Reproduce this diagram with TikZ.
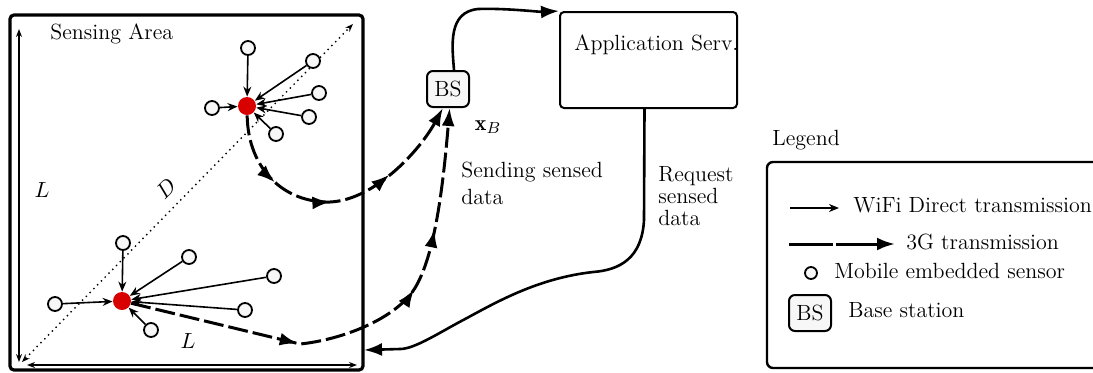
\documentclass[tikz,border=0pt]{standalone}
\usepackage{fontspec}
\usetikzlibrary{arrows.meta,decorations.markings,calc}

\begin{document}
\begin{tikzpicture}[x=0.5pt,y=-0.5pt,
  font=\fontsize{11}{13.5}\selectfont,
  sensor/.style={circle,draw,line width=0.9pt,fill=black!3,minimum size=7pt,inner sep=0pt},
  sink/.style={circle,fill=red!85!black,minimum size=9pt,inner sep=0pt},
  wifi/.style={line width=0.8pt,-{Stealth[length=5pt,width=4pt]}},
  dim/.style={line width=0.6pt,{Stealth[length=4pt,width=3pt]}-{Stealth[length=4pt,width=3pt]}},
  bigtip/.tip={Latex[length=9pt,width=6.5pt]},
  gthree/.style={line width=1.5pt,dash pattern=on 10pt off 2.5pt,-bigtip},
  midtip/.style={postaction={draw=none,decorate,decoration={markings,
    mark=at position #1 with {\arrow{bigtip}}}}},
  link/.style={line width=1.3pt},
  bsbox/.style={draw,line width=1pt,rounded corners=3pt,fill=black!3,
    minimum width=21pt,minimum height=18pt,inner sep=1pt},
  lbl/.style={anchor=west,inner sep=0pt},
]
\useasboundingbox (0,0) rectangle (1093,372);

% sensing area
\draw[line width=1.6pt,rounded corners=2pt] (10,15) rectangle (363,370);
\node[anchor=west,inner sep=0pt] (title) at (50,34) {Sensing Area};
\draw[dim] (19,29) -- (19,362);
\draw[dim] (27,365) -- (357,365);
\draw[line width=0.7pt,dotted,{Stealth[length=4pt,width=3pt]}-{Stealth[length=4pt,width=3pt]}] (22,362) -- (353,24);
\node (lv) at (42,190) {$L$};
\node[rotate=45] (dg) at (166,189) {$D$};
\node (lh) at (188,341) {$L$};

% upper cluster
\node[sink] (c1) at (247,106) {};
\node[sensor] (u1) at (248,48) {};
\node[sensor] (u2) at (313,61) {};
\node[sensor] (u3) at (319,93) {};
\node[sensor] (u4) at (309,117) {};
\node[sensor] (u5) at (276,134) {};
\node[sensor] (u6) at (212,108) {};
\foreach \s in {u1,u2,u3,u4,u5,u6} \draw[wifi] (\s) -- (c1);

% lower cluster
\node[sink] (c2) at (122,301) {};
\node[sensor] (d1) at (123,243) {};
\node[sensor] (d2) at (189,257) {};
\node[sensor] (d3) at (274,276) {};
\node[sensor] (d4) at (245,310) {};
\node[sensor] (d5) at (151,330) {};
\node[sensor] (d6) at (55,304) {};
\foreach \s in {d1,d2,d3,d4,d5,d6} \draw[wifi] (\s) -- (c2);

% base station and server
\node[bsbox] (bs) at (448,89) {BS};
\node (xb) at (488,127) {$\mathbf{x}_B$};
\node[draw,line width=1pt,rounded corners=2pt,minimum width=88.5pt,minimum height=48pt] (app) at (648.5,60) {};
\node[anchor=west,inner sep=0pt] (apptxt) at (574,45) {Application Serv.};
\node[align=left,anchor=north west,inner sep=0pt] (send) at (461,162) {Sending sensed\\data};
\node[align=left,anchor=north west,inner sep=0pt,font=\fontsize{11}{11}\selectfont] (req) at (658,166) {Request\\sensed\\data};

% 3G uploads towards the base station
\draw[gthree,midtip=0.26,midtip=0.47,midtip=0.70]
  (c1) .. controls (248,170) and (285,203) .. (330,202)
       .. controls (375,200) and (420,150) .. (bs.-105);
\draw[gthree,midtip=0.35,midtip=0.62,midtip=0.75]
  (c2) -- (300,344) .. controls (340,340) and (395,320) .. (415,288)
       .. controls (433,258) and (442,200) .. (bs.-85);

% base station to server, server requests
\draw[link,-bigtip] ([xshift=3pt]bs.north) .. controls (452,45) and (448,12) .. (478,9)
  .. controls (505,8) and (540,12) .. (app.north west);
\coordinate (reqend) at (364,350);
\draw[link,-bigtip] ([xshift=-2pt]app.south) -- (644,220) .. controls (642,258) and (620,270) .. (593,272)
  .. controls (540,278) and (500,300) .. (467,318)
  .. controls (440,332) and (415,349) .. (400,349) -- (reqend);

% legend
\node[anchor=west,inner sep=0pt] (leg) at (772,140) {Legend};
\draw[line width=1.2pt,rounded corners=3pt] (767,162) rectangle (1110,368);
\coordinate (w0) at (790,208);
\coordinate (w1) at (839,208);
\draw[wifi] (w0) -- (w1);
\node[lbl] (wt) at (853,205) {WiFi Direct transmission};
\coordinate (g0) at (789,244);
\coordinate (g1) at (895,244);
\draw[gthree,dash pattern=on 22pt off 1.5pt] (g0) -- (g1);
\node[lbl] (gt) at (906,242) {3G transmission};
\node[sensor,minimum size=6pt] (ls) at (811,273) {};
\node[lbl] (st) at (834,271) {Mobile embedded sensor};
\node[bsbox] (lbs) at (810,313) {BS};
\node[lbl] (bt) at (848,310) {Base station};
\end{tikzpicture}
\end{document}
